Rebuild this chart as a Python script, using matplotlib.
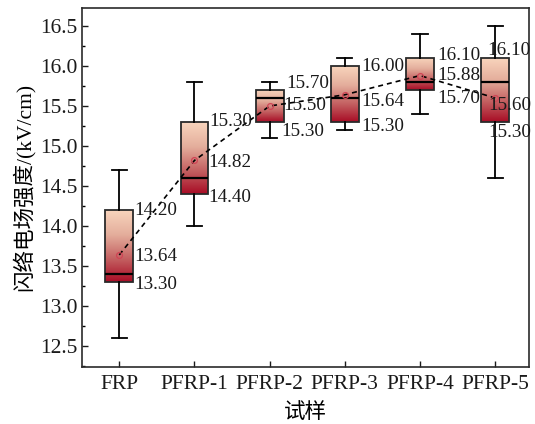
import numpy as np
import matplotlib
matplotlib.use("Agg")
import matplotlib.pyplot as plt
from matplotlib.colors import LinearSegmentedColormap
from matplotlib.ticker import MultipleLocator

# ---- data ----
categories = ["FRP", "PFRP-1", "PFRP-2", "PFRP-3", "PFRP-4", "PFRP-5"]
whisker_low = [12.6, 14.0, 15.1, 15.2, 15.4, 14.6]
q1_values = [13.3, 14.4, 15.3, 15.3, 15.7, 15.3]
medians = [13.4, 14.6, 15.6, 15.6, 15.8, 15.8]
q3_values = [14.2, 15.3, 15.7, 16.0, 16.1, 16.1]
whisker_high = [14.7, 15.8, 15.8, 16.1, 16.4, 16.5]
means = [13.64, 14.82, 15.50, 15.64, 15.88, 15.60]

# label pixel offsets (dx, dy) for q3, mean, q1 labels (layout only)
lab_dx = [(15, 15, 15), (15, 14, 14), (17, 14, 12), (16, 16, 16), (17, 17, 17), (-8, -7, -7)]
lab_dy = [(0, -2, -2), (1, -2, -3), (6, 0, -9), (-1, -7, -4), (2, 0, -9), (7, -8, -10)]

plt.rcParams['font.family'] = ['Liberation Serif', 'Noto Sans CJK SC']
plt.rcParams['axes.unicode_minus'] = False

fig = plt.figure(figsize=(5.35, 4.24), dpi=100)
ax = fig.add_axes([0.1527, 0.1344, 0.9888 - 0.1527, 0.9823 - 0.1344])

positions = np.arange(1, len(categories) + 1)
stats = []
for i in range(len(categories)):
    stats.append(dict(whislo=whisker_low[i], q1=q1_values[i], med=medians[i],
                      q3=q3_values[i], whishi=whisker_high[i], mean=means[i],
                      fliers=[]))

edge = '#2a2a2a'
bp = ax.bxp(stats, positions=positions, widths=0.37, patch_artist=True,
            showmeans=False, showfliers=False,
            boxprops=dict(facecolor='none', edgecolor=edge, linewidth=1.3),
            medianprops=dict(color='black', linewidth=1.6),
            whiskerprops=dict(color='black', linewidth=1.3),
            capprops=dict(color='black', linewidth=1.3),
            capwidths=0.2)

cmap = LinearSegmentedColormap.from_list(
    'pk', [(0.0, '#F9D6BE'), (0.35, '#E4AE9C'), (0.7, '#C25C5E'), (1.0, '#A80C25')])
for patch in bp['boxes']:
    v = patch.get_path().vertices
    x0, x1 = v[:, 0].min(), v[:, 0].max()
    y0, y1 = v[:, 1].min(), v[:, 1].max()
    grad = np.linspace(0, 1, 256)[:, None]
    im = ax.imshow(grad, cmap=cmap, vmin=0, vmax=1, extent=(x0, x1, y0, y1),
                   origin='upper', aspect='auto', zorder=1.5, interpolation='bilinear')
    im.set_clip_path(patch)

# mean line
ax.plot(positions, means, linestyle=(0, (3.0, 2.4)), color='black', linewidth=1.2, zorder=4)
ax.plot(positions, means, linestyle='none', marker='o', markersize=4.2,
        markerfacecolor='none', markeredgecolor='#D04455', markeredgewidth=0.9, zorder=5)

# value labels
for i, p in enumerate(positions):
    vals = (q3_values[i], means[i], q1_values[i])
    for k in range(3):
        ax.annotate(f"{vals[k]:.2f}", xy=(p, vals[k]), xytext=(lab_dx[i][k], lab_dy[i][k]),
                    textcoords='offset pixels', ha='left', va='center',
                    fontsize=13.8, color='#1a1a1a', zorder=6)

ax.set_xlim(0.5, 6.45)
ax.set_ylim(12.24, 16.73)
ax.set_xticks(positions)
ax.set_xticklabels(categories)
ax.yaxis.set_major_locator(MultipleLocator(0.5))
ax.yaxis.set_minor_locator(MultipleLocator(0.25))
ax.yaxis.set_major_formatter(matplotlib.ticker.FormatStrFormatter('%.1f'))
ax.tick_params(axis='both', which='major', direction='in', length=4, width=1.0,
               labelsize=15.5, colors='#1a1a1a', top=False, right=False)
ax.tick_params(axis='y', which='minor', direction='in', length=2.5, width=1.0, right=False)
ax.tick_params(axis='x', which='major', pad=6)
ax.tick_params(axis='y', which='major', pad=3)
for s in ax.spines.values():
    s.set_linewidth(1.2)
    s.set_color('#2a2a2a')

ax.set_ylabel('闪络电场强度/(kV/cm)', fontsize=15.5, labelpad=4)
ax.set_xlabel('试样', fontsize=15.5, labelpad=6)

fig.savefig('out.png', dpi=100)
